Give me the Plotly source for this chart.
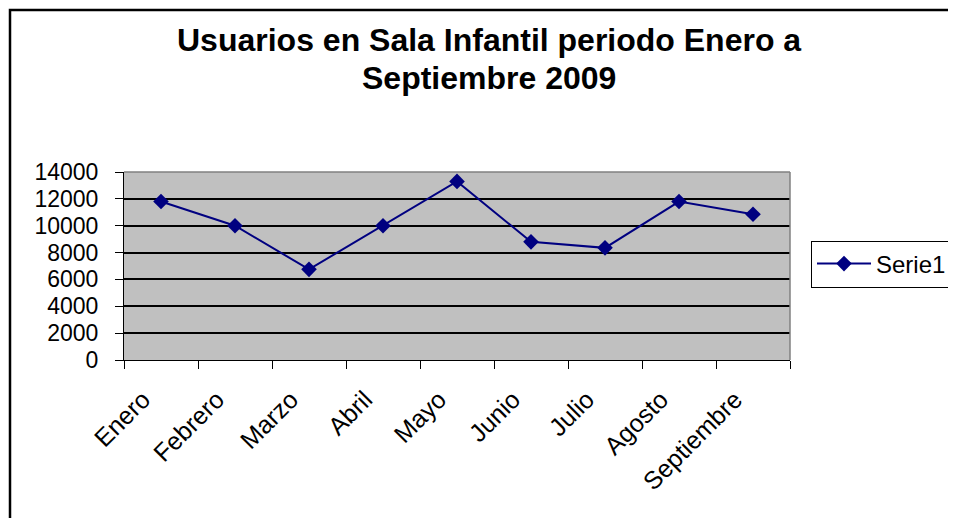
import plotly.graph_objects as go

meses = ["Enero", "Febrero", "Marzo", "Abril", "Mayo", "Junio", "Julio", "Agosto", "Septiembre"]
usuarios = [11800, 10000, 6750, 10000, 13300, 8800, 8350, 11800, 10850]
serie = "Serie1"
titulo_1 = "Usuarios en Sala Infantil periodo Enero a"
titulo_2 = "Septiembre 2009"

# the page adds an 8px body margin, so the figure is drawn smaller and offset
OFF = 8
W, H = 956 - OFF, 518 - OFF
# plot area in page pixels: x 124..790, y 172..360
PX0, PX1, PY0, PY1 = 124, 790, 172, 360
L, R = PX0 - OFF, W - (PX1 - OFF)
T, B = PY0 - OFF, H - (PY1 - OFF)
pw, ph = PX1 - PX0, PY1 - PY0

def px2x(px):
    return (px - PX0) / pw

def py2y(py):
    return (PY1 - py) / ph

FONT = "Liberation Sans, Arial, sans-serif"

fig = go.Figure()
fig.add_trace(go.Scatter(
    x=meses, y=usuarios, name=serie, mode="lines+markers",
    line=dict(color="#000080", width=2),
    marker=dict(symbol="diamond", size=12, color="#000080"),
))

fig.update_layout(
    width=W, height=H,
    margin=dict(l=L, r=R, t=T, b=B, autoexpand=False),
    paper_bgcolor="white",
    plot_bgcolor="#C0C0C0",
    font=dict(family=FONT, size=24, color="black"),
    showlegend=True,
    legend=dict(x=px2x(811), y=py2y(264), xanchor="left", yanchor="middle",
                bordercolor="black", borderwidth=1, bgcolor="white",
                itemwidth=54, font=dict(size=24)),
    xaxis=dict(type="category", tickson="boundaries", ticks="outside", ticklen=8,
               tickcolor="black", tickwidth=1, showline=True, linecolor="black",
               linewidth=1, showgrid=False, tickangle=-45,
               tickfont=dict(size=25), ticklabelstandoff=14, ticklabelshift=-18,
               range=[-0.5, len(meses) - 0.5]),
    yaxis=dict(range=[0, 14000], dtick=2000, tickformat="d", ticks="outside", ticklen=8,
               tickcolor="black", tickwidth=1, showline=True, linecolor="black",
               linewidth=1, showgrid=True, gridcolor="black", gridwidth=2,
               zeroline=False, tickfont=dict(size=23), ticklabelstandoff=12),
    annotations=[
        dict(text=titulo_1, x=px2x(489), y=py2y(40), xref="paper", yref="paper",
             xanchor="center", yanchor="middle", showarrow=False,
             font=dict(family=FONT, size=32, color="black", weight="bold")),
        dict(text=titulo_2, x=px2x(489), y=py2y(78), xref="paper", yref="paper",
             xanchor="center", yanchor="middle", showarrow=False,
             font=dict(family=FONT, size=32, color="black", weight="bold")),
    ],
    shapes=[
        dict(type="line", xref="paper", yref="paper", x0=0, x1=1, y0=1, y1=1,
             line=dict(color="#808080", width=1.5), layer="above"),
        dict(type="line", xref="paper", yref="paper", x0=1, x1=1, y0=0, y1=1,
             line=dict(color="#808080", width=1.5), layer="above"),
        dict(type="rect", xref="paper", yref="paper", x0=px2x(10), x1=px2x(1100),
             y0=py2y(700), y1=py2y(10), line=dict(color="black", width=2.5),
             layer="above"),
    ],
)

fig.write_html("out.html")
